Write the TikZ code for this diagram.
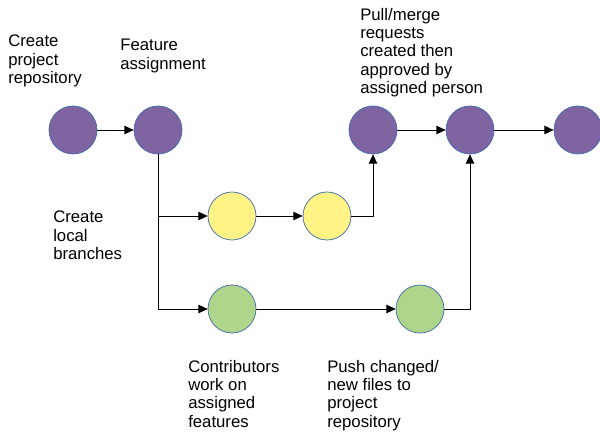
\documentclass[tikz,border=0pt]{standalone}
\usepackage{fontspec}
\setmainfont{Liberation Sans}
\usepackage{tikz}
\usetikzlibrary{arrows.meta}
\definecolor{commit purple}{HTML}{8064A2}
\definecolor{branch yellow}{HTML}{FFF385}
\definecolor{branch green}{HTML}{AFD58A}
\definecolor{ring blue}{HTML}{3D6AAE}
\begin{document}
\begin{tikzpicture}[x=0.025cm, y=-0.025cm,
		commit/.style={circle, draw=ring blue, line width=0.5pt, minimum size=48*0.025cm, inner sep=0pt},
		label text/.style={anchor=north west, inner sep=0pt, align=left, font=\fontsize{11.9}{13.0}\selectfont},
		flow/.style={line width=0.7pt, -{Triangle[length=2.3mm, width=2.1mm]}}]
			\useasboundingbox (0,0) rectangle (600,432);
			\node[commit, fill=commit purple] (create) at (73, 130) {};
			\node[commit, fill=commit purple] (assign) at (158, 130) {};
			\node[commit, fill=commit purple] (request) at (373, 130) {};
			\node[commit, fill=commit purple] (merge) at (470, 130) {};
			\node[commit, fill=commit purple] (final) at (578, 130) {};
			\node[commit, fill=branch yellow] (yellowa) at (232, 216) {};
			\node[commit, fill=branch yellow] (yellowb) at (327, 216) {};
			\node[commit, fill=branch green] (greena) at (232, 309) {};
			\node[commit, fill=branch green] (greenb) at (420, 309) {};
			\draw[flow] (create) -- (assign);
			\draw[flow] (request) -- (merge);
			\draw[flow] (merge) -- (final);
			\draw[flow] (assign.south) |- (yellowa.west);
			\draw[flow] (assign.south) |- (greena.west);
			\draw[flow] (yellowa) -- (yellowb);
			\draw[flow] (greena) -- (greenb);
			\draw[flow] (yellowb.east) -| (request.south);
			\draw[flow] (greenb.east) -| (merge.south);
			\node[label text] (createtext) at (8, 35) {Create\\project\\repository};
			\node[label text] (assigntext) at (120, 39) {Feature\\assignment};
			\node[label text] (requesttext) at (360, 8) {Pull/merge\\requests\\created then\\approved by\\assigned person};
			\node[label text] (localtext) at (53, 211) {Create\\local\\branches};
			\node[label text] (worktext) at (188, 360) {Contributors\\work on\\assigned\\features};
			\node[label text] (pushtext) at (327, 360) {Push changed/\\new files to\\project\\repository};
		\end{tikzpicture}
\end{document}
